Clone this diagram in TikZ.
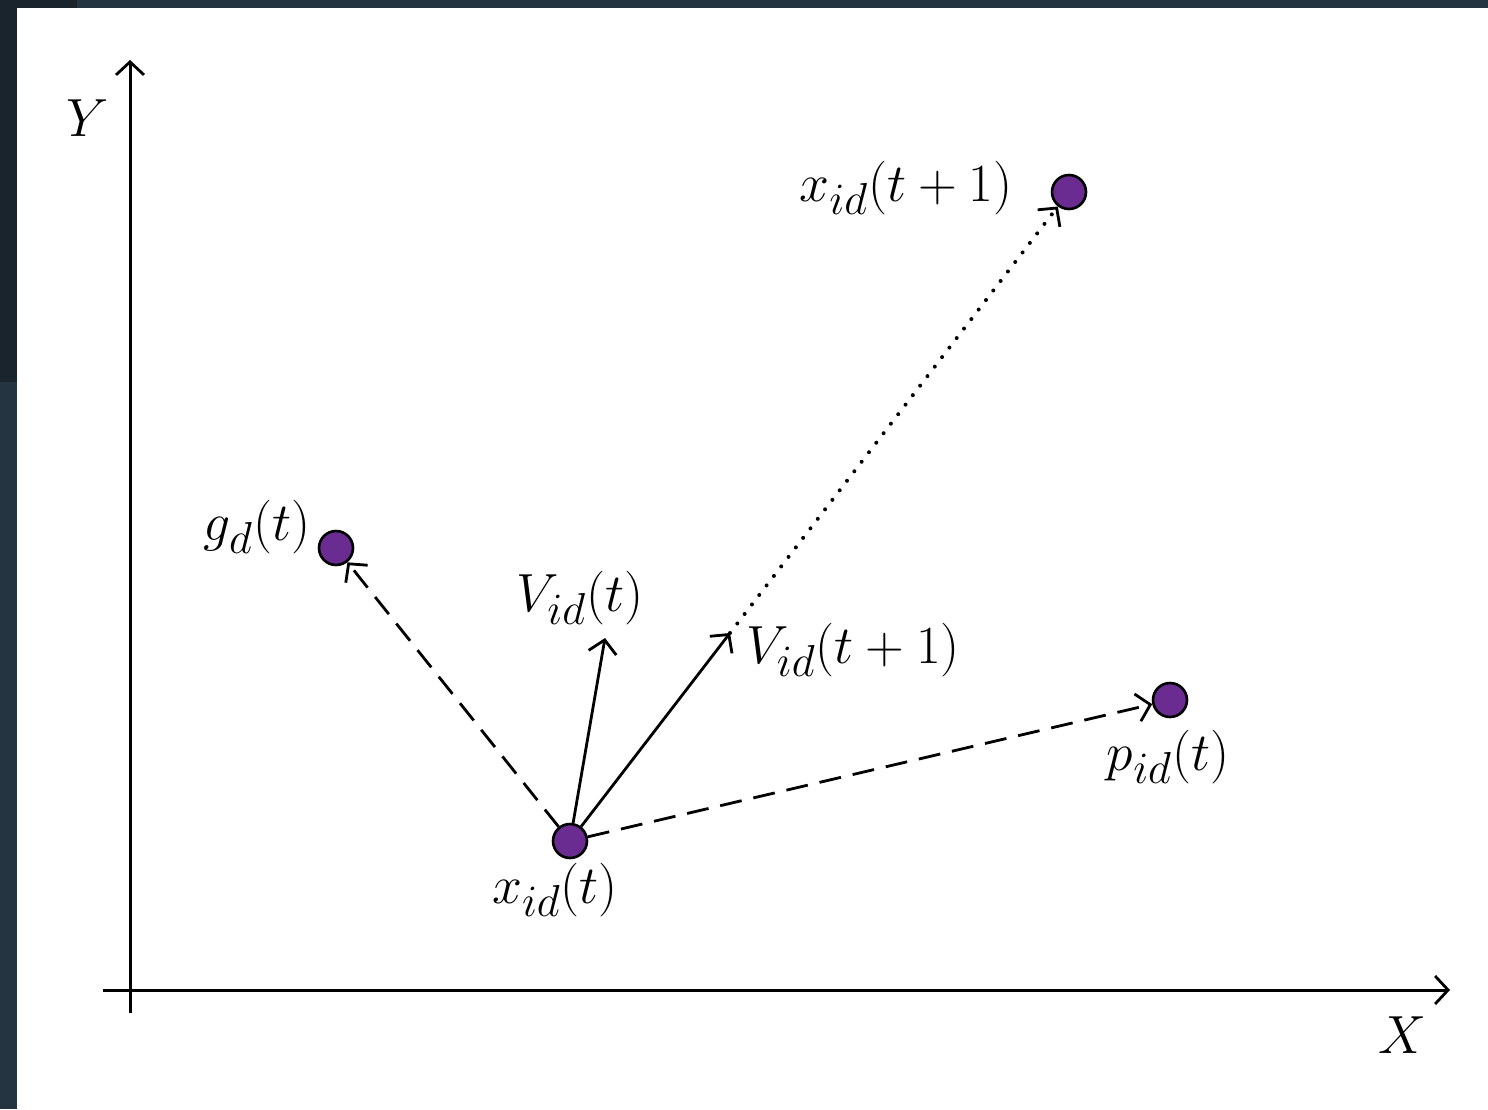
\documentclass[tikz,border=0pt]{standalone}
\usepackage{graphicx}
\usetikzlibrary{arrows.meta}
\definecolor{darkA}{RGB}{25,36,45}
\definecolor{darkB}{RGB}{36,52,64}
\definecolor{dotpurple}{RGB}{106,44,145}
\newcommand{\lbltext}[1]{\scalebox{1.08}{$#1$}}
\tikzset{
  pt/.style={circle, draw=black, fill=dotpurple, line width=1.3pt, minimum size=17pt, inner sep=0pt},
  lbl/.style={inner sep=1pt, font=\fontsize{24.88}{30}\selectfont},
  barb/.style={-{Straight Barb[length=6.5pt,width=14pt,line width=1.4pt]}},
  axis/.style={line width=1.5pt, barb},
  vec/.style={line width=1.4pt, barb},
  dashvec/.style={line width=1.4pt, dash pattern=on 11pt off 6pt, barb},
  dotvec/.style={line width=2pt, line cap=round, dash pattern=on 0pt off 6pt, barb}
}
\begin{document}
\begin{tikzpicture}[x=0.5pt,y=-0.5pt]
\useasboundingbox (0,0) rectangle (1488,1109);
\fill[darkB] (0,0) rectangle (1488,1109);
\fill[darkA] (0,0) rectangle (77,382);
\fill[white] (17,8) rectangle (1488,1109);
% axes
\coordinate (ybot) at (130,1013);
\coordinate (ytop) at (130,60);
\coordinate (xleft) at (103,990);
\coordinate (xright) at (1450,990);
\draw[axis] (ybot) -- (ytop);
\draw[axis] (xleft) -- (xright);
\node[lbl] (ylab) at (88,118) {\lbltext{Y}};
\node[lbl] (xlab) at (1402,1035) {\lbltext{X}};
% points
\node[pt] (xt1) at (1069,192) {};
\node[pt] (gd) at (336,548) {};
\node[pt] (pid) at (1170,700) {};
\node[pt] (xt) at (570,841) {};
\coordinate (vt) at (605,638);
\coordinate (vt1) at (730,633);
% connectors
\draw[dashvec] (xt) -- (gd);
\draw[dashvec] (xt) -- (pid);
\draw[vec] (xt) -- (vt);
\draw[vec] (xt) -- (vt1);
\draw[dotvec] (vt1) -- (xt1);
% labels
\node[lbl] (lxt1) at (906,188) {\lbltext{x_{id}(t+1)}};
\node[lbl] (lgd) at (257,527) {\lbltext{g_d(t)}};
\node[lbl] (lvt) at (580,598) {\lbltext{V_{id}(t)}};
\node[lbl] (lvt1) at (853,650) {\lbltext{V_{id}(t+1)}};
\node[lbl] (lpid) at (1168,757) {\lbltext{p_{id}(t)}};
\node[lbl] (lxt) at (555,890) {\lbltext{x_{id}(t)}};
\end{tikzpicture}
\end{document}
